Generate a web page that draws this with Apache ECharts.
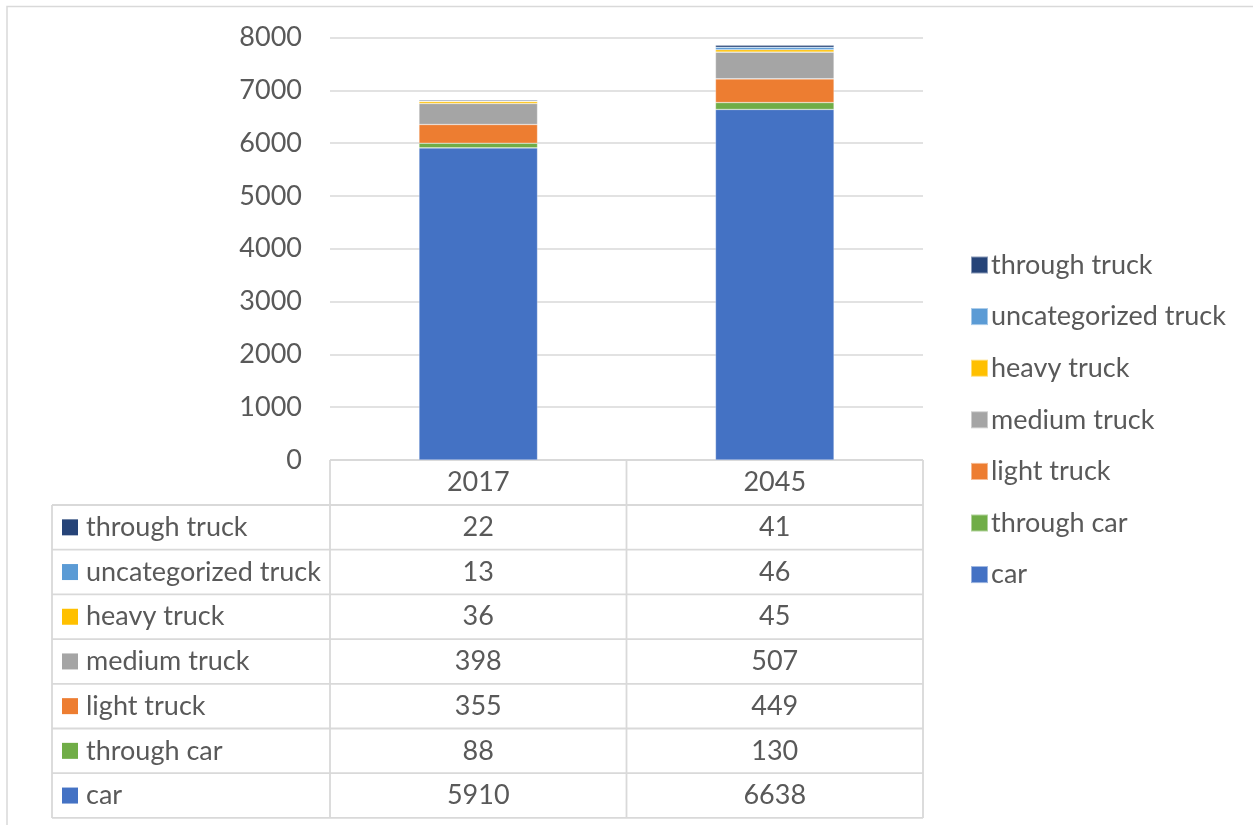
<!DOCTYPE html>
<html>
<head>
<meta charset="utf-8">
<title>Traffic by vehicle type, 2017 and 2045</title>
<script src="https://cdn.jsdelivr.net/npm/echarts@6/dist/echarts.min.js"></script>
<style>
  html, body { margin: 0; padding: 0; background: #fff; }
  #chart { width: 1253px; height: 825px; }
</style>
</head>
<body>
<div id="chart"></div>
<script>
// Years shown on the category axis
const years = ['2017', '2045'];

// Vehicle classes, bottom of the stack first
const seriesNames = ['car', 'through car', 'light truck', 'medium truck', 'heavy truck', 'uncategorized truck', 'through truck'];

// Values per class, one entry per year
const car = [5910, 6638];
const throughCar = [88, 130];
const lightTruck = [355, 449];
const mediumTruck = [398, 507];
const heavyTruck = [36, 45];
const uncategorizedTruck = [13, 46];
const throughTruck = [22, 41];

const seriesValues = [car, throughCar, lightTruck, mediumTruck, heavyTruck, uncategorizedTruck, throughTruck];

// Value axis ticks
const yTicks = [0, 1000, 2000, 3000, 4000, 5000, 6000, 7000, 8000];

const colors = ['#4472C4', '#70AD47', '#ED7D31', '#A5A5A5', '#FFC000', '#5B9BD5', '#264478'];

const FONT = 'Lato';
const TEXT = '#595959';
const RULE = '#D9D9D9';
const FS = 27;

// Plot geometry
const GRID = { left: 330, right: 330, top: 37.5, bottom: 365 };
const TABLE_LEFT = 52;
const HEADER_H = 45;
const ROW_H = 44.7;

const chart = echarts.init(document.getElementById('chart'), null, { renderer: 'canvas' });

const series = seriesNames.map((name, i) => ({
  name: name,
  type: 'bar',
  stack: 'total',
  barWidth: '40%',
  itemStyle: { color: colors[i], borderColor: 'rgba(255,255,255,0.45)', borderWidth: 0.6 },
  emphasis: { disabled: true },
  data: seriesValues[i]
}));

chart.setOption({
  animation: false,
  color: colors,
  textStyle: { fontFamily: FONT, color: TEXT },
  grid: Object.assign({ containLabel: false }, GRID),
  legend: {
    orient: 'vertical',
    left: 965,
    top: 245,
    icon: 'rect',
    itemWidth: 17,
    itemHeight: 17,
    itemGap: 21.6,
    selectedMode: false,
    data: seriesNames.slice().reverse(),
    textStyle: { fontFamily: FONT, fontSize: FS, color: TEXT, lineHeight: 30, padding: [0, 0, 0, -2] }
  },
  xAxis: {
    type: 'category',
    data: years,
    axisLine: { show: false },
    axisTick: { show: false },
    axisLabel: { fontFamily: FONT, fontSize: FS, color: TEXT, margin: 9, lineHeight: 26 }
  },
  yAxis: {
    type: 'value',
    min: yTicks[0],
    max: yTicks[yTicks.length - 1],
    interval: yTicks[1] - yTicks[0],
    axisLine: { show: false },
    axisTick: { show: false },
    axisLabel: { fontFamily: FONT, fontSize: FS, color: TEXT, margin: 28, formatter: v => String(v) },
    splitLine: { lineStyle: { color: RULE, width: 1.5 } }
  },
  series: series
});

// Data table under the plot, laid out from the category axis
function buildTable() {
  const x0 = chart.convertToPixel({ xAxisIndex: 0 }, years[0]);
  const x1 = chart.convertToPixel({ xAxisIndex: 0 }, years[1]);
  const band = x1 - x0;
  const colLeft = x0 - band / 2;
  const colRight = x1 + band / 2;
  const colMid = (x0 + x1) / 2;
  const top = chart.convertToPixel({ yAxisIndex: 0 }, 0);
  const rowsTop = top + HEADER_H;
  const rowsBottom = rowsTop + ROW_H * seriesNames.length;
  const line = { stroke: RULE, lineWidth: 1.8 };
  const els = [];

  // outer frame of the chart area
  els.push({ type: 'rect', shape: { x: 7, y: 6.5, width: 1400, height: 1000 }, style: { fill: 'none', stroke: RULE, lineWidth: 1.5 }, silent: true });

  // horizontal rules
  els.push({ type: 'line', shape: { x1: colLeft, y1: top, x2: colRight, y2: top }, style: line, silent: true });
  for (let r = 0; r <= seriesNames.length; r++) {
    const y = rowsTop + r * ROW_H;
    els.push({ type: 'line', shape: { x1: TABLE_LEFT, y1: y, x2: colRight, y2: y }, style: line, silent: true });
  }
  // vertical rules
  els.push({ type: 'line', shape: { x1: TABLE_LEFT, y1: rowsTop, x2: TABLE_LEFT, y2: rowsBottom }, style: line, silent: true });
  [colLeft, colMid, colRight].forEach(x => {
    els.push({ type: 'line', shape: { x1: x, y1: top, x2: x, y2: rowsBottom }, style: line, silent: true });
  });

  // rows: top row is the last series
  const order = seriesNames.map((_, i) => seriesNames.length - 1 - i);
  order.forEach((si, r) => {
    const cy = rowsTop + r * ROW_H + ROW_H / 2;
    els.push({ type: 'rect', shape: { x: 62, y: cy - 8, width: 16, height: 16 }, style: { fill: colors[si] }, silent: true });
    els.push({ type: 'text', x: 86, y: cy, style: { text: seriesNames[si], font: FS + 'px ' + FONT, fill: TEXT, textVerticalAlign: 'middle', textAlign: 'left' }, silent: true });
    years.forEach((yr, c) => {
      const cx = chart.convertToPixel({ xAxisIndex: 0 }, yr);
      els.push({ type: 'text', x: cx, y: cy, style: { text: String(seriesValues[si][c]), font: FS + 'px ' + FONT, fill: TEXT, textVerticalAlign: 'middle', textAlign: 'center' }, silent: true });
    });
  });

  chart.setOption({ graphic: { elements: els } });
}

buildTable();
</script>
</body>
</html>
